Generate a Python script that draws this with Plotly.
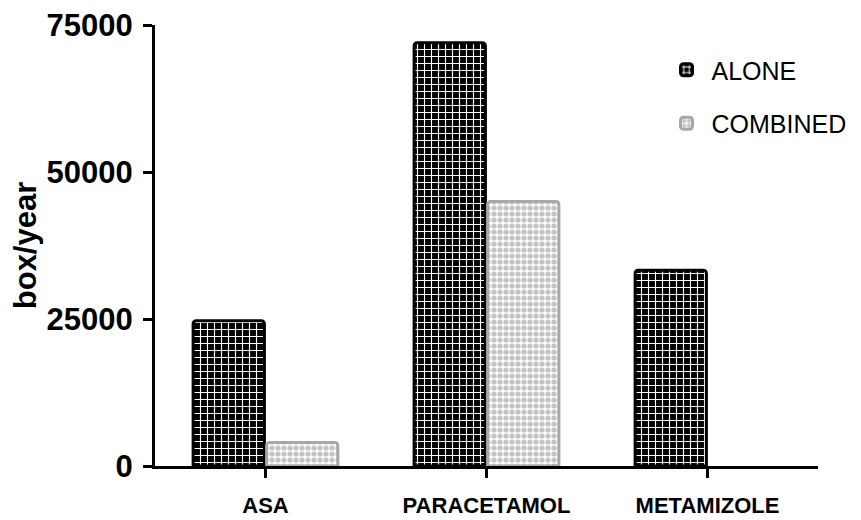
import plotly.graph_objects as go

categories = ["ASA", "PARACETAMOL", "METAMIZOLE"]
alone = [24700, 72000, 33300]
combined = [4000, 45000, 0]
y_ticks = [0, 25000, 50000, 75000]

fig = go.Figure()
fig.add_trace(go.Bar(
    x=categories, y=alone, name="ALONE", legendgroup="a",
    marker=dict(color="black", line=dict(color="black", width=3), cornerradius=3,
                pattern=dict(shape="+", fgcolor="white", bgcolor="black",
                             size=7, solidity=0.3, fillmode="replace")),
))
fig.add_trace(go.Bar(
    x=categories, y=combined, name="COMBINED", legendgroup="b",
    marker=dict(color="white",
                line=dict(color="#a8a8a8", width=[3 if v > 0 else 0 for v in combined]),
                cornerradius=3,
                pattern=dict(shape=".", fgcolor="#c4c4c4", bgcolor="white",
                             size=6, solidity=0.6, fillmode="replace")),
))

fig.update_layout(
    width=861, height=520,
    margin=dict(l=147, r=51, t=17, b=62, autoexpand=False),
    paper_bgcolor="white", plot_bgcolor="white",
    barmode="group", bargap=0.335, bargroupgap=0.03,
    font=dict(family="Liberation Sans, Arial, sans-serif", color="black"),
    legend=dict(x=0.764, y=0.95, xanchor="left", yanchor="top",
                font=dict(size=25, color="black"), tracegroupgap=18,
                bgcolor="rgba(0,0,0,0)", itemwidth=40),
    showlegend=True,
)
fig.update_xaxes(
    range=[-0.5, 2.5], showline=True, linecolor="black", linewidth=3,
    ticks="outside", ticklen=9, tickwidth=3, tickcolor="black", automargin=False,
    tickfont=dict(size=22, family="Liberation Sans, Arial, sans-serif", weight="bold"),
    ticklabelstandoff=9, showgrid=False, zeroline=False, ticklabeloverflow="allow",
)
fig.update_yaxes(
    range=[0, 75000], tickvals=y_ticks, ticktext=[str(v) for v in y_ticks],
    showline=True, linecolor="black", linewidth=3, automargin=False,
    ticks="outside", ticklen=9, tickwidth=3, tickcolor="black",
    tickfont=dict(size=31, family="Liberation Sans, Arial, sans-serif", weight="bold"),
    ticklabelstandoff=4, showgrid=False, zeroline=False, ticklabeloverflow="allow",
    title=dict(text="box/year", standoff=12,
               font=dict(size=31, family="Liberation Sans, Arial, sans-serif", weight="bold")),
)

fig.write_html("out.html")
